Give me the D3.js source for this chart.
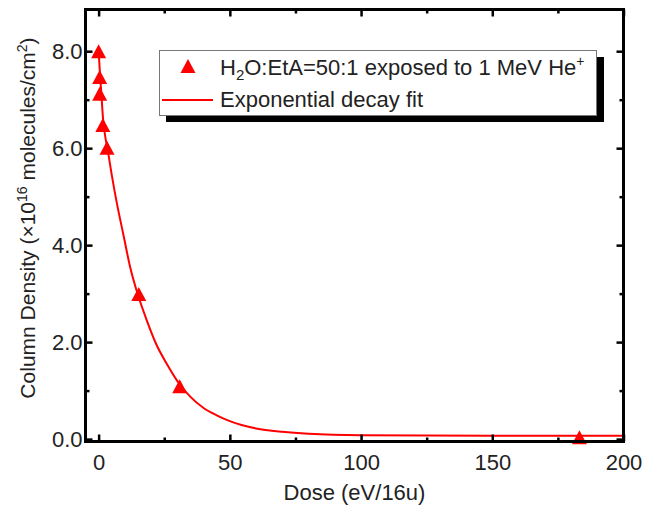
<!DOCTYPE html>
<html>
<head>
<meta charset="utf-8">
<script src="https://cdn.jsdelivr.net/npm/d3@7"></script>
<style>
  body { margin: 0; background: #fff; }
  text { font-family: "Liberation Sans", Arial, sans-serif; fill: #222; }
</style>
</head>
<body>
<script>
var w = 657;
var h = 506;

// measured points
var doseX = [0, 0.4, 0.4, 1.6, 3.2, 15.3, 30.9, 183.2];
var density = [8.0, 7.47, 7.12, 6.48, 6.01, 2.99, 1.09, 0.04];

// fit curve
var fitX = [0, 0.5, 1, 1.7, 2.5, 3.5, 5, 7, 9.5, 12, 15, 18, 22, 26, 31, 35, 40, 45, 50, 60, 70, 80, 100, 150, 200];
var fitY = [8.0, 7.55, 7.15, 6.6, 6.25, 5.95, 5.45, 4.85, 4.2, 3.55, 2.97, 2.5, 1.95, 1.55, 1.12, 0.87, 0.64, 0.49, 0.37, 0.22, 0.15, 0.11, 0.08, 0.07, 0.07];

var xMajor = [0, 50, 100, 150, 200];
var xMinor = [25, 75, 125, 175];
var yMajor = [0, 2, 4, 6, 8];
var yMinor = [1, 3, 5, 7];

var pL = 85.5, pR = 623.5, pT = 9.5, pB = 441.5;

var x = d3.scaleLinear().domain([-5, 200]).range([pL, pR]);
var y = d3.scaleLinear().domain([-0.05, 8.86]).range([pB, pT]);

var svg = d3.select('body')
			.append('svg')
			.attr('width', w)
			.attr('height', h);

svg.append('rect').attr('width', w).attr('height', h).attr('fill', '#fff');

// fit line
var line = d3.line()
			.x(function(d) { return x(d[0]); })
			.y(function(d) { return y(d[1]); })
			.curve(d3.curveMonotoneX);

svg.append('path')
	.datum(d3.zip(fitX, fitY))
	.attr('d', line)
	.attr('fill', 'none')
	.attr('stroke', '#ff0000')
	.attr('stroke-width', 2);

// triangles
var tri = 'M0,-7L7.5,7L-7.5,7Z';
svg.selectAll('path.pt')
	.data(d3.zip(doseX, density))
	.enter()
	.append('path')
	.attr('class', 'pt')
	.attr('d', tri)
	.attr('transform', function(d) { return 'translate(' + x(d[0]) + ',' + y(d[1]) + ')'; })
	.attr('fill', '#ff0000');

// axes, ticks pointing inward
function styleAxis(g) {
	g.select('.domain').remove();
	g.selectAll('line').attr('stroke', '#000').attr('stroke-width', 2.5);
	g.selectAll('text').attr('font-size', 22).attr('fill', '#222')
		.style('font-family', '"Liberation Sans", Arial, sans-serif');
}

svg.append('g').attr('transform', 'translate(0,' + pB + ')')
	.call(d3.axisBottom(x).tickValues(xMajor).tickSize(-7).tickPadding(13).tickFormat(d3.format('d')))
	.call(styleAxis);
svg.append('g').attr('transform', 'translate(0,' + pB + ')')
	.call(d3.axisBottom(x).tickValues(xMinor).tickSize(-4).tickFormat(''))
	.call(styleAxis);
svg.append('g').attr('transform', 'translate(0,' + pT + ')')
	.call(d3.axisTop(x).tickValues(xMajor).tickSize(-7).tickFormat(''))
	.call(styleAxis);
svg.append('g').attr('transform', 'translate(0,' + pT + ')')
	.call(d3.axisTop(x).tickValues(xMinor).tickSize(-4).tickFormat(''))
	.call(styleAxis);

svg.append('g').attr('transform', 'translate(' + pL + ',0)')
	.call(d3.axisLeft(y).tickValues(yMajor).tickSize(-7).tickPadding(3).tickFormat(d3.format('.1f')))
	.call(styleAxis);
svg.append('g').attr('transform', 'translate(' + pL + ',0)')
	.call(d3.axisLeft(y).tickValues(yMinor).tickSize(-4).tickFormat(''))
	.call(styleAxis);
svg.append('g').attr('transform', 'translate(' + pR + ',0)')
	.call(d3.axisRight(y).tickValues(yMajor).tickSize(-7).tickFormat(''))
	.call(styleAxis);
svg.append('g').attr('transform', 'translate(' + pR + ',0)')
	.call(d3.axisRight(y).tickValues(yMinor).tickSize(-4).tickFormat(''))
	.call(styleAxis);

// frame
svg.append('rect')
	.attr('x', pL).attr('y', pT)
	.attr('width', pR - pL).attr('height', pB - pT)
	.attr('fill', 'none')
	.attr('stroke', '#000')
	.attr('stroke-width', 3);

// axis titles
svg.append('text')
	.attr('x', (pL + pR) / 2).attr('y', 500)
	.attr('text-anchor', 'middle')
	.attr('font-size', 22)
	.text('Dose (eV/16u)');

var yt = svg.append('text')
	.attr('transform', 'translate(35,218) rotate(-90)')
	.attr('text-anchor', 'middle')
	.attr('font-size', 21);
yt.append('tspan').text('Column Density (\u00d710');
yt.append('tspan').attr('font-size', 14).attr('dy', -8).text('16');
yt.append('tspan').attr('dy', 8).text(' molecules/cm');
yt.append('tspan').attr('font-size', 14).attr('dy', -8).text('2');
yt.append('tspan').attr('dy', 8).text(')');

// legend
var lg = svg.append('g');
lg.append('rect')
	.attr('x', 166).attr('y', 57).attr('width', 438).attr('height', 65)
	.attr('fill', '#000');
lg.append('rect')
	.attr('x', 159.5).attr('y', 50.5).attr('width', 437).attr('height', 65)
	.attr('fill', '#fff')
	.attr('stroke', '#777')
	.attr('stroke-width', 1);
lg.append('path')
	.attr('d', tri)
	.attr('transform', 'translate(188,66)')
	.attr('fill', '#ff0000');
lg.append('line')
	.attr('x1', 162).attr('x2', 213).attr('y1', 100).attr('y2', 100)
	.attr('stroke', '#ff0000').attr('stroke-width', 2);

var t1 = lg.append('text').attr('x', 220).attr('y', 75).attr('font-size', 22);
t1.append('tspan').text('H');
t1.append('tspan').attr('font-size', 15).attr('dy', 5).text('2');
t1.append('tspan').attr('dy', -5).text('O:EtA=50:1 exposed to 1 MeV He');
t1.append('tspan').attr('font-size', 14).attr('dy', -9).text('+');

lg.append('text').attr('x', 220).attr('y', 107).attr('font-size', 22)
	.text('Exponential decay fit');
</script>
</body>
</html>
